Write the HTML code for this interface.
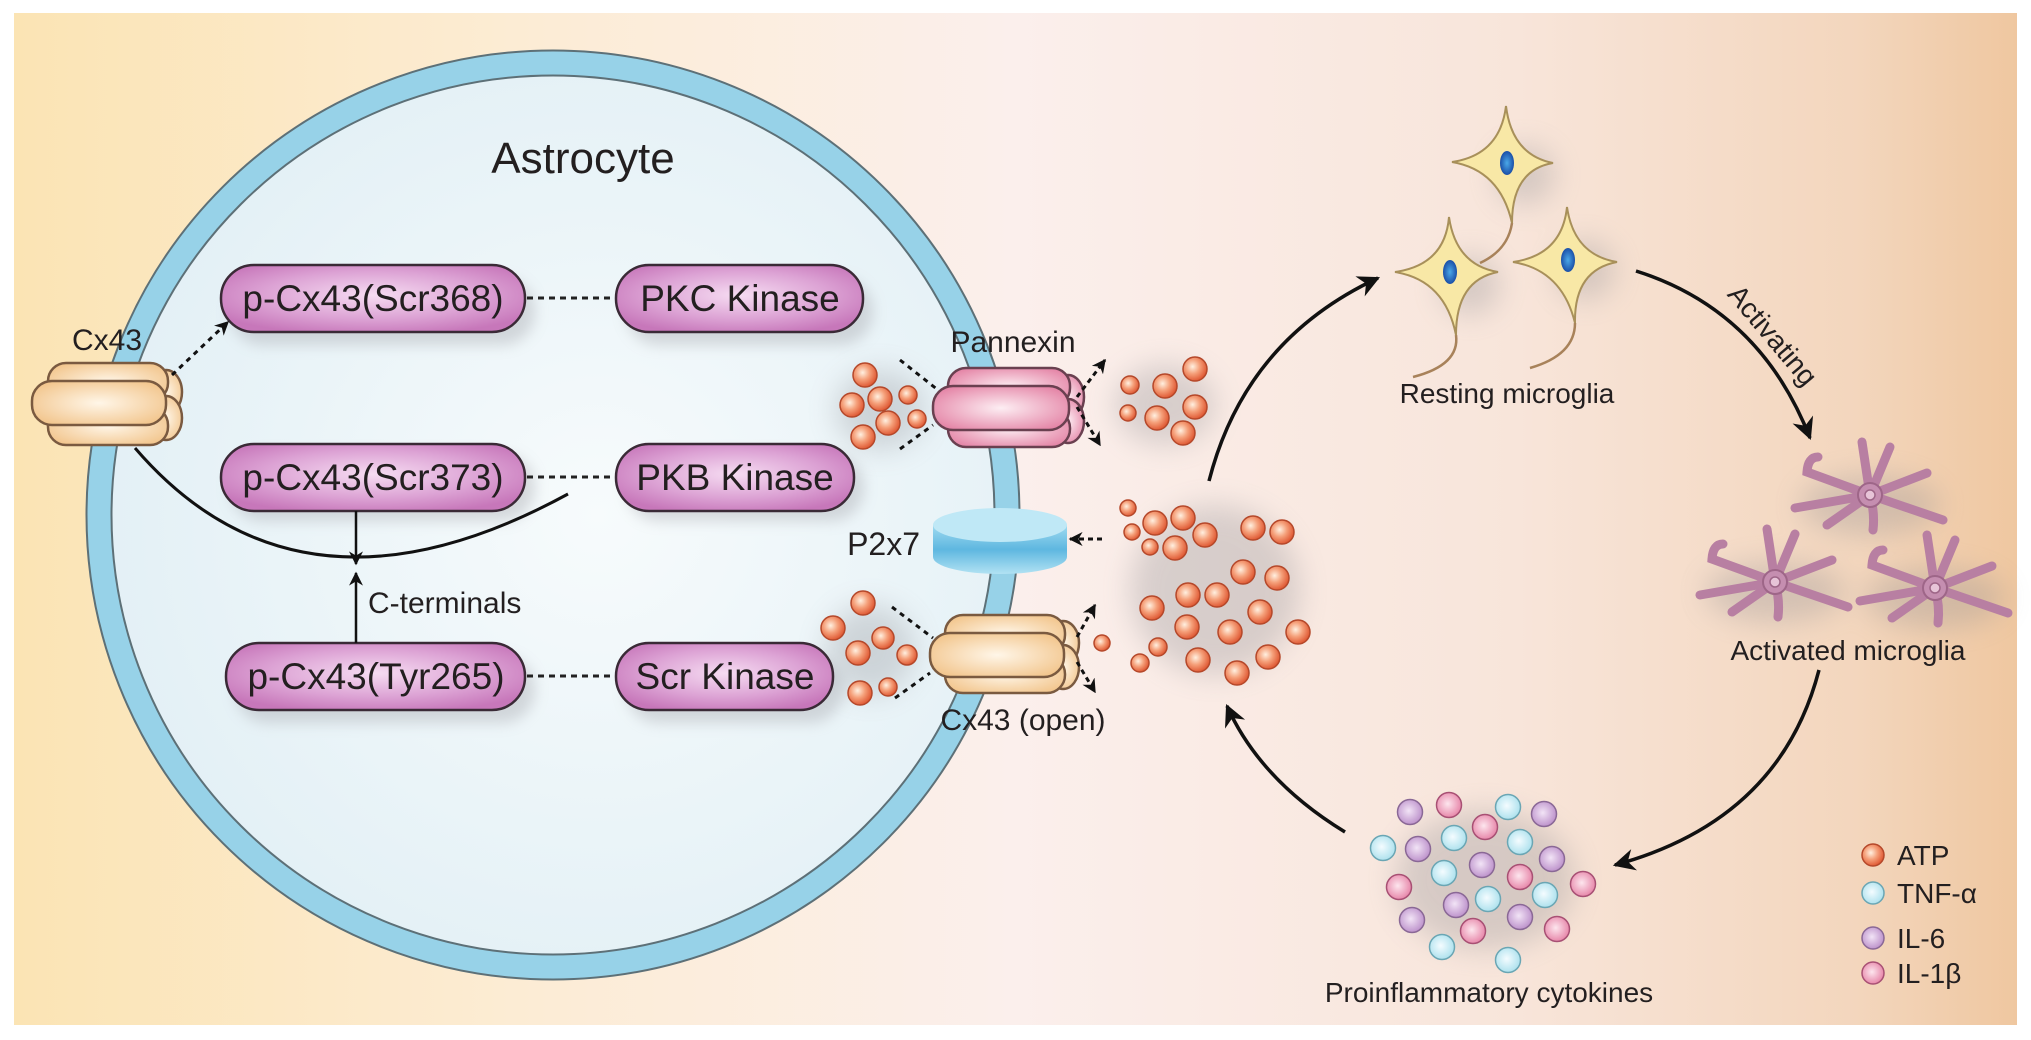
<!DOCTYPE html>
<html><head><meta charset="utf-8"><style>
html,body{margin:0;padding:0;background:#fff}
svg{display:block}
text{font-family:"Liberation Sans",Arial,sans-serif;fill:#231f20}
</style></head><body>
<svg width="2031" height="1040" viewBox="0 0 2031 1040" xmlns="http://www.w3.org/2000/svg">
<defs>
<linearGradient id="bg" x1="0" x2="1" y1="0" y2="0">
<stop offset="0" stop-color="#fbe4b4"/><stop offset="0.25" stop-color="#fcecd4"/>
<stop offset="0.5" stop-color="#fbefec"/><stop offset="0.75" stop-color="#f8e5da"/>
<stop offset="0.92" stop-color="#f3d6bd"/><stop offset="1" stop-color="#efc7a0"/></linearGradient>
<radialGradient id="cell" cx="0.55" cy="0.5" r="0.6"><stop offset="0" stop-color="#f7fbfc"/><stop offset="1" stop-color="#e1eff5"/></radialGradient>
<radialGradient id="box" cx="0.5" cy="0.45" r="0.6"><stop offset="0" stop-color="#f6dcf2"/><stop offset="0.6" stop-color="#dca2d4"/><stop offset="1" stop-color="#c777ba"/></radialGradient>
<radialGradient id="atp" cx="0.4" cy="0.4" r="0.6"><stop offset="0" stop-color="#fff0e0"/><stop offset="0.5" stop-color="#f5a07a"/><stop offset="1" stop-color="#e05b36"/></radialGradient>
<radialGradient id="cy" cx="0.45" cy="0.45" r="0.6"><stop offset="0" stop-color="#f4fcff"/><stop offset="1" stop-color="#a8dfec"/></radialGradient>
<radialGradient id="pu" cx="0.45" cy="0.45" r="0.6"><stop offset="0" stop-color="#f2e4f6"/><stop offset="1" stop-color="#b98cc8"/></radialGradient>
<radialGradient id="pk" cx="0.45" cy="0.45" r="0.6"><stop offset="0" stop-color="#fde6ee"/><stop offset="1" stop-color="#e57fa4"/></radialGradient>
<radialGradient id="orch" cx="0.5" cy="0.5" r="0.6"><stop offset="0" stop-color="#fff6e8"/><stop offset="1" stop-color="#f2c58c"/></radialGradient>
<radialGradient id="pkch" cx="0.5" cy="0.5" r="0.6"><stop offset="0" stop-color="#fdeef3"/><stop offset="1" stop-color="#e484a6"/></radialGradient>
<linearGradient id="p2" x1="0" x2="0" y1="0" y2="1"><stop offset="0" stop-color="#9fdaf0"/><stop offset="0.5" stop-color="#5eb7e0"/><stop offset="1" stop-color="#b2e2f3"/></linearGradient>
<radialGradient id="nuc" cx="0.5" cy="0.5" r="0.5"><stop offset="0" stop-color="#4aa8e8"/><stop offset="1" stop-color="#1a4fa8"/></radialGradient>
<filter id="blur" x="-50%" y="-50%" width="200%" height="200%"><feGaussianBlur stdDeviation="14"/></filter>
<filter id="sh" x="-20%" y="-40%" width="140%" height="200%"><feGaussianBlur stdDeviation="7"/></filter>
<marker id="big" viewBox="0 0 10 10" refX="9" refY="5" markerWidth="26" markerHeight="22" orient="auto" markerUnits="userSpaceOnUse"><path d="M0,0 L10,5 L0,10 L3,5z" fill="#111"/></marker>
<marker id="sm" viewBox="0 0 10 10" refX="9" refY="5" markerWidth="14" markerHeight="14" orient="auto" markerUnits="userSpaceOnUse"><path d="M0,0 L10,5 L0,10 L3,5z" fill="#111"/></marker>
<g id="act">
<g stroke="#b87fa2" stroke-width="9" stroke-linecap="round" fill="none">
<path d="M0,0 L-8,-53"/><path d="M0,0 L20,-48"/><path d="M0,0 L57,-22"/><path d="M0,0 L73,25"/>
<path d="M0,0 Q5,18 3,35"/><path d="M0,0 L-43,30"/><path d="M0,0 L-75,13"/><path d="M0,0 L-63,-23 Q-62,-38 -52,-38"/>
</g>
<circle r="12" fill="#c58eb0" stroke="#9e6688" stroke-width="2"/><circle r="5" fill="#e7c4d8" stroke="#9e6688" stroke-width="1.5"/>
</g>
</defs>
<rect x="0" y="0" width="2031" height="1040" fill="#fff"/>
<rect x="14" y="13" width="2003" height="1012" fill="url(#bg)"/>

<!-- cell -->
<ellipse cx="553" cy="515" rx="454" ry="452" fill="url(#cell)"/>
<ellipse cx="553" cy="515" rx="454" ry="452" fill="none" stroke="#5d7077" stroke-width="27"/>
<ellipse cx="553" cy="515" rx="454" ry="452" fill="none" stroke="#97d2e8" stroke-width="23"/>
<text x="583" y="173" font-size="44" text-anchor="middle">Astrocyte</text>

<!-- shadows -->
<g fill="#9a9aa0" opacity="0.35" filter="url(#sh)">
<rect x="230" y="278" width="305" height="67" rx="33"/><rect x="626" y="278" width="247" height="67" rx="33"/>
<rect x="230" y="454" width="305" height="67" rx="33"/><rect x="626" y="454" width="238" height="67" rx="33"/>
<rect x="235" y="656" width="300" height="67" rx="33"/><rect x="626" y="656" width="217" height="67" rx="33"/>
</g>
<g fill="#8a8a90" opacity="0.3" filter="url(#blur)">
<ellipse cx="880" cy="410" rx="45" ry="40"/><ellipse cx="1165" cy="405" rx="50" ry="40"/>
<ellipse cx="1215" cy="590" rx="85" ry="85"/><ellipse cx="870" cy="650" rx="45" ry="45"/>
<ellipse cx="1485" cy="880" rx="90" ry="70"/><ellipse cx="1870" cy="505" rx="70" ry="30"/>
<ellipse cx="1775" cy="592" rx="70" ry="30"/><ellipse cx="1935" cy="598" rx="70" ry="30"/>
<ellipse cx="1525" cy="175" rx="30" ry="30"/><ellipse cx="1470" cy="285" rx="30" ry="30"/><ellipse cx="1585" cy="270" rx="30" ry="30"/>
</g>

<!-- boxes -->
<g stroke="#3a2a36" stroke-width="2.5" fill="url(#box)">
<rect x="221" y="265" width="304" height="67" rx="33"/><rect x="616" y="265" width="247" height="67" rx="33"/>
<rect x="221" y="444" width="304" height="67" rx="33"/><rect x="616" y="444" width="238" height="67" rx="33"/>
<rect x="226" y="643" width="299" height="67" rx="33"/><rect x="616" y="643" width="217" height="67" rx="33"/>
</g>
<g font-size="37" text-anchor="middle">
<text x="373" y="311">p-Cx43(Scr368)</text><text x="740" y="311">PKC Kinase</text>
<text x="373" y="490">p-Cx43(Scr373)</text><text x="735" y="490">PKB Kinase</text>
<text x="376" y="689">p-Cx43(Tyr265)</text><text x="725" y="689">Scr Kinase</text>
</g>
<g stroke="#222" stroke-width="3" stroke-dasharray="6 5">
<line x1="527" y1="298" x2="614" y2="298"/><line x1="527" y1="477" x2="614" y2="477"/><line x1="527" y1="676" x2="614" y2="676"/>
</g>

<!-- curve and arrows -->
<path d="M135,448 Q300,640 568,494" fill="none" stroke="#111" stroke-width="3"/>
<line x1="356" y1="511" x2="356" y2="564" stroke="#111" stroke-width="2.5" marker-end="url(#sm)"/>
<line x1="356" y1="643" x2="356" y2="573" stroke="#111" stroke-width="2.5" marker-end="url(#sm)"/>
<text x="368" y="613" font-size="30">C-terminals</text>

<!-- channels -->
<g stroke="#7a5a40" stroke-width="2.5" fill="url(#orch)">
<ellipse cx="166" cy="392" rx="16" ry="22"/><ellipse cx="166" cy="418" rx="16" ry="22"/>
<rect x="48" y="363" width="120" height="38" rx="18"/><rect x="48" y="407" width="120" height="38" rx="18"/>
<rect x="32" y="381" width="134" height="44" rx="20"/>
</g>
<text x="107" y="350" font-size="30" text-anchor="middle">Cx43</text>
<line x1="172" y1="375" x2="228" y2="322" stroke="#111" stroke-width="3" stroke-dasharray="5 5" marker-end="url(#sm)"/>

<g stroke="#6a4050" stroke-width="2.5" fill="url(#pkch)">
<ellipse cx="1068" cy="397" rx="16" ry="22"/><ellipse cx="1068" cy="421" rx="16" ry="22"/>
<rect x="948" y="368" width="122" height="38" rx="18"/><rect x="948" y="410" width="122" height="37" rx="18"/>
<rect x="933" y="386" width="136" height="44" rx="20"/>
</g>
<text x="1013" y="352" font-size="30" text-anchor="middle">Pannexin</text>

<g stroke="#7a5a40" stroke-width="2.5" fill="url(#orch)">
<ellipse cx="1063" cy="643" rx="16" ry="22"/><ellipse cx="1063" cy="667" rx="16" ry="22"/>
<rect x="945" y="615" width="120" height="38" rx="18"/><rect x="945" y="656" width="120" height="37" rx="18"/>
<rect x="930" y="633" width="134" height="44" rx="20"/>
</g>
<text x="1023" y="730" font-size="30" text-anchor="middle">Cx43 (open)</text>

<g>
<path d="M933,525 L933,557 A67,17 0 0 0 1067,557 L1067,525z" fill="url(#p2)"/>
<ellipse cx="1000" cy="525" rx="67" ry="17" fill="#bfe8f6"/>
</g>
<text x="920" y="555" font-size="32" text-anchor="end">P2x7</text>

<!-- dotted arrows near channels -->
<g stroke="#111" stroke-width="3" stroke-dasharray="5 5" fill="none">
<line x1="900" y1="360" x2="938" y2="390"/><line x1="900" y1="449" x2="933" y2="425"/>
<line x1="892" y1="607" x2="933" y2="638"/><line x1="895" y1="698" x2="930" y2="673"/>
</g>
<g stroke="#111" stroke-width="3" stroke-dasharray="5 4">
<line x1="1077" y1="397" x2="1105" y2="360" marker-end="url(#sm)"/>
<line x1="1077" y1="407" x2="1100" y2="445" marker-end="url(#sm)"/>
<line x1="1102" y1="539" x2="1070" y2="539" marker-end="url(#sm)"/>
<line x1="1077" y1="637" x2="1095" y2="605" marker-end="url(#sm)"/>
<line x1="1077" y1="662" x2="1095" y2="692" marker-end="url(#sm)"/>
</g>

<!-- ATP -->
<g fill="url(#atp)" stroke="#b5482a" stroke-width="1.5">
<circle cx="865" cy="375" r="12"/><circle cx="852" cy="405" r="12"/><circle cx="880" cy="399" r="12"/><circle cx="908" cy="395" r="9"/><circle cx="888" cy="423" r="12"/><circle cx="917" cy="419" r="9"/><circle cx="863" cy="437" r="12"/>
<circle cx="1130" cy="385" r="9"/><circle cx="1165" cy="386" r="12"/><circle cx="1195" cy="369" r="12"/><circle cx="1195" cy="407" r="12"/><circle cx="1128" cy="413" r="8"/><circle cx="1157" cy="418" r="12"/><circle cx="1183" cy="433" r="12"/>
<circle cx="1128" cy="508" r="8"/><circle cx="1155" cy="523" r="12"/><circle cx="1183" cy="518" r="12"/><circle cx="1132" cy="532" r="8"/><circle cx="1205" cy="535" r="12"/><circle cx="1150" cy="547" r="8"/><circle cx="1175" cy="548" r="12"/><circle cx="1253" cy="528" r="12"/><circle cx="1282" cy="532" r="12"/>
<circle cx="1243" cy="572" r="12"/><circle cx="1277" cy="578" r="12"/><circle cx="1152" cy="608" r="12"/><circle cx="1188" cy="595" r="12"/><circle cx="1217" cy="595" r="12"/><circle cx="1260" cy="612" r="12"/><circle cx="1187" cy="627" r="12"/><circle cx="1230" cy="632" r="12"/><circle cx="1298" cy="632" r="12"/>
<circle cx="1158" cy="647" r="9"/><circle cx="1140" cy="663" r="9"/><circle cx="1198" cy="660" r="12"/><circle cx="1268" cy="657" r="12"/><circle cx="1237" cy="673" r="12"/><circle cx="1102" cy="643" r="8"/>
<circle cx="863" cy="603" r="12"/><circle cx="833" cy="628" r="12"/><circle cx="883" cy="638" r="11"/><circle cx="858" cy="653" r="12"/><circle cx="907" cy="655" r="10"/><circle cx="860" cy="693" r="12"/><circle cx="888" cy="687" r="9"/>
</g>

<!-- big arrows -->
<g fill="none" stroke="#111" stroke-width="3.5">
<path d="M1209,481 Q1245,340 1378,278" marker-end="url(#big)"/>
<path d="M1636,271 Q1760,310 1810,438" marker-end="url(#big)"/>
<path d="M1819,670 Q1780,820 1615,865" marker-end="url(#big)"/>
<path d="M1345,832 Q1260,780 1227,706" marker-end="url(#big)"/>
</g>
<text x="1773" y="345" font-size="28" text-anchor="middle" transform="rotate(50 1773 335)">Activating</text>

<!-- resting microglia -->
<g fill="none" stroke="#a8825a" stroke-width="2.5">
<path d="M1512,223 Q1508,250 1480,263"/><path d="M1456,335 Q1460,365 1413,377"/><path d="M1575,323 Q1575,355 1530,368"/>
</g>
<g fill="#f8e8a6" stroke="#a8905a" stroke-width="2">
<path d="M1506,106 Q1512,155 1553,163 Q1512,170 1512,223 Q1500,170 1452,162 Q1500,155 1506,106z"/>
<path d="M1449,217 Q1456,265 1498,272 Q1456,280 1456,335 Q1445,280 1395,272 Q1445,265 1449,217z"/>
<path d="M1567,207 Q1574,255 1617,262 Q1574,270 1575,323 Q1562,270 1513,262 Q1562,255 1567,207z"/>
</g>
<g fill="url(#nuc)">
<ellipse cx="1507" cy="163" rx="7" ry="12"/><ellipse cx="1450" cy="272" rx="7" ry="12"/><ellipse cx="1568" cy="260" rx="7" ry="12"/>
</g>
<text x="1507" y="403" font-size="28" text-anchor="middle">Resting microglia</text>

<!-- activated -->
<use href="#act" x="1870" y="495"/><use href="#act" x="1775" y="582"/><use href="#act" x="1935" y="588"/>
<text x="1848" y="660" font-size="28" text-anchor="middle">Activated microglia</text>

<!-- cytokines -->
<g stroke-width="1.5">
<g fill="url(#pu)" stroke="#8a6896">
<circle cx="1410" cy="812" r="12.5"/><circle cx="1544" cy="814" r="12.5"/><circle cx="1418" cy="849" r="12.5"/><circle cx="1552" cy="859" r="12.5"/><circle cx="1482" cy="865" r="12.5"/><circle cx="1456" cy="905" r="12.5"/><circle cx="1412" cy="920" r="12.5"/><circle cx="1520" cy="917" r="12.5"/>
</g>
<g fill="url(#pk)" stroke="#a85074">
<circle cx="1449" cy="805" r="12.5"/><circle cx="1485" cy="827" r="12.5"/><circle cx="1520" cy="877" r="12.5"/><circle cx="1399" cy="887" r="12.5"/><circle cx="1583" cy="884" r="12.5"/><circle cx="1473" cy="931" r="12.5"/><circle cx="1557" cy="929" r="12.5"/>
</g>
<g fill="url(#cy)" stroke="#6aa6b4">
<circle cx="1508" cy="807" r="12.5"/><circle cx="1383" cy="848" r="12.5"/><circle cx="1454" cy="838" r="12.5"/><circle cx="1520" cy="842" r="12.5"/><circle cx="1444" cy="873" r="12.5"/><circle cx="1488" cy="899" r="12.5"/><circle cx="1545" cy="895" r="12.5"/><circle cx="1442" cy="947" r="12.5"/><circle cx="1508" cy="960" r="12.5"/>
</g>
</g>
<text x="1489" y="1002" font-size="28" text-anchor="middle">Proinflammatory cytokines</text>

<!-- legend -->
<circle cx="1873" cy="855" r="11" fill="url(#atp)" stroke="#b5482a" stroke-width="1.5"/>
<circle cx="1873" cy="893" r="11" fill="url(#cy)" stroke="#6aa6b4" stroke-width="1.5"/>
<circle cx="1873" cy="938" r="11" fill="url(#pu)" stroke="#8a6896" stroke-width="1.5"/>
<circle cx="1873" cy="973" r="11" fill="url(#pk)" stroke="#a85074" stroke-width="1.5"/>
<g font-size="28">
<text x="1897" y="865">ATP</text><text x="1897" y="903">TNF-α</text><text x="1897" y="948">IL-6</text><text x="1897" y="983">IL-1β</text>
</g>
</svg>
</body></html>
